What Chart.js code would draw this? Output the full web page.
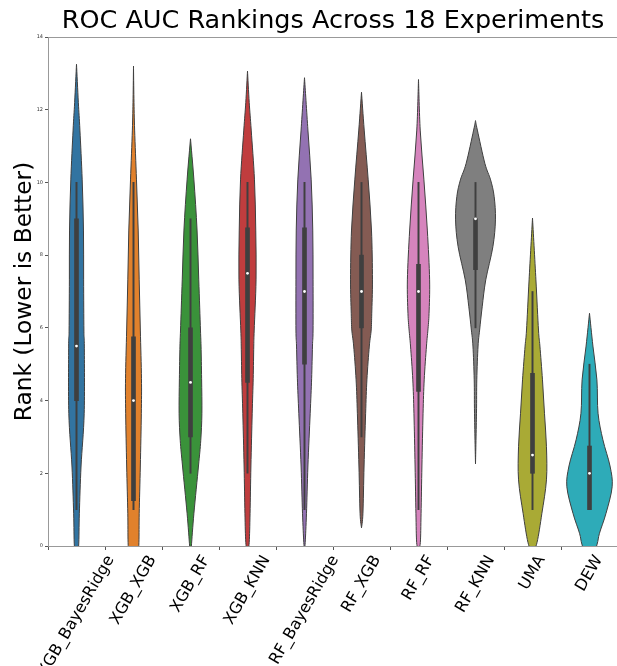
<!DOCTYPE html>
<html>
<head>
<meta charset="utf-8">
<script src="https://cdn.jsdelivr.net/npm/chart.js@4.4.1/dist/chart.umd.min.js"></script>
<style>
  html, body { margin: 0; padding: 0; background: #fff; overflow: hidden; }
  #wrap { width: 618px; height: 666px; position: relative; }
</style>
</head>
<body>
<div id="wrap"><canvas id="chart"></canvas></div>
<script>
const models = ['XGB_BayesRidge', 'XGB_XGB', 'XGB_RF', 'XGB_KNN', 'RF_BayesRidge',
                'RF_XGB', 'RF_RF', 'RF_KNN', 'UMA', 'DEW'];

// inner box of each violin (rank values)
const whiskLo = [1, 1, 2, 2, 1, 3, 1, 6, 1, 1];
const q1      = [4, 1.25, 3, 4.5, 5, 6, 4.25, 7.6, 2, 1];
const medians = [5.5, 4, 4.5, 7.5, 7, 7, 7, 9, 2.5, 2];
const q3      = [9, 5.75, 6, 8.75, 8.75, 8, 7.75, 9, 4.75, 2.75];
const whiskHi = [10, 10, 9, 10, 10, 10, 10, 10, 7, 5];

// violin outlines: [rank, full width as a share of the category slot]
const shapeXGB_BayesRidge = [[-0.3, 0], [0, 0.075], [0.9, 0.10], [2.2, 0.16], [3.65, 0.27], [5.5, 0.275],
  [5.94, 0.26], [7.32, 0.25], [8.69, 0.245], [10.07, 0.20], [11.44, 0.12], [12.2, 0.065], [13.25, 0]];
const shapeXGB_XGB = [[-0.5, 0.15], [0.1, 0.19], [0.9, 0.2], [2.2, 0.24], [3.65, 0.275], [4.6, 0.28],
  [5.94, 0.24], [7.32, 0.2], [8.69, 0.165], [10.07, 0.105], [11.44, 0.04], [12.3, 0.015], [13.2, 0]];
const shapeXGB_RF = [[-0.2, 0], [0, 0.03], [0.9, 0.12], [2.2, 0.28], [2.9, 0.36], [3.65, 0.40], [4.6, 0.39],
  [5.5, 0.37], [5.94, 0.35], [7.32, 0.29], [8.69, 0.23], [10.07, 0.12], [11.2, 0]];
const shapeXGB_KNN = [[-0.2, 0], [0.1, 0.06], [0.9, 0.09], [2.2, 0.12], [3.65, 0.165], [4.6, 0.2], [5.5, 0.22],
  [5.94, 0.235], [7.32, 0.3], [8.69, 0.29], [10.07, 0.245], [11.44, 0.13], [12.2, 0.06], [13.06, 0]];
const shapeRF_BayesRidge = [[-0.1, 0], [0.1, 0.025], [0.9, 0.07], [2.2, 0.12], [3.65, 0.2], [4.6, 0.25],
  [5.5, 0.28], [5.94, 0.3], [7.32, 0.3], [8.69, 0.29], [10.07, 0.235], [11.44, 0.12], [12.88, 0]];
const shapeRF_XGB = [[0.5, 0], [0.9, 0.05], [2.2, 0.09], [3.65, 0.145], [4.57, 0.19], [5.5, 0.275], [5.94, 0.34],
  [6.4, 0.36], [7.32, 0.385], [8.69, 0.35], [10.07, 0.235], [11.44, 0.095], [12.48, 0]];
const shapeRF_RF = [[-0.1, 0], [0.1, 0.065], [0.9, 0.09], [2.2, 0.12], [3.65, 0.16], [4.57, 0.2], [5.5, 0.28],
  [5.94, 0.33], [6.4, 0.37], [7.32, 0.39], [8.69, 0.31], [10.07, 0.19], [11.44, 0.06], [12.83, 0]];
const shapeRF_KNN = [[2.26, 0], [3.65, 0.035], [4.57, 0.045], [5.5, 0.09], [5.94, 0.145], [6.58, 0.235],
  [7.32, 0.36], [8.23, 0.61], [8.97, 0.70], [9.61, 0.655], [10.07, 0.53], [10.52, 0.33], [11.44, 0.065], [11.7, 0]];
const shapeUMA = [[-0.2, 0], [0.1, 0.16], [0.9, 0.33], [1.82, 0.49], [2.73, 0.49], [3.65, 0.42], [4.57, 0.35],
  [5.5, 0.26], [5.94, 0.21], [7.32, 0.12], [9.02, 0]];
const shapeDEW = [[-0.6, 0], [0.03, 0.26], [0.35, 0.35], [0.9, 0.58], [1.63, 0.795], [2.2, 0.72], [2.92, 0.47],
  [3.65, 0.30], [4.57, 0.26], [5.5, 0.12], [6.4, 0]];

const violinShapes = [shapeXGB_BayesRidge, shapeXGB_XGB, shapeXGB_RF, shapeXGB_KNN, shapeRF_BayesRidge,
                      shapeRF_XGB, shapeRF_RF, shapeRF_KNN, shapeUMA, shapeDEW];

const palette = ['#3274a1', '#e1812c', '#3a923a', '#c03d3e', '#9372b2',
                 '#845b53', '#d684bd', '#7f7f7f', '#a9aa35', '#2eabb8'];
const FONT = "'DejaVu Sans', sans-serif";

// catmull-rom through the outline points
function smoothPath(ctx, pts, move) {
  if (move) ctx.moveTo(pts[0][0], pts[0][1]);
  else ctx.lineTo(pts[0][0], pts[0][1]);
  for (let k = 0; k < pts.length - 1; k++) {
    const p0 = pts[Math.max(k - 1, 0)], p1 = pts[k], p2 = pts[k + 1], p3 = pts[Math.min(k + 2, pts.length - 1)];
    ctx.bezierCurveTo(
      p1[0] + (p2[0] - p0[0]) / 6, p1[1] + (p2[1] - p0[1]) / 6,
      p2[0] - (p3[0] - p1[0]) / 6, p2[1] - (p3[1] - p1[1]) / 6,
      p2[0], p2[1]);
  }
}

const violinPlugin = {
  id: 'violins',
  beforeDatasetsDraw(chart) {
    const { ctx, chartArea: a, scales: { x, y } } = chart;
    const slot = (a.right - a.left) / models.length;
    ctx.save();
    ctx.beginPath();
    ctx.rect(a.left, a.top, a.right - a.left, a.bottom - a.top);
    ctx.clip();
    violinShapes.forEach((shape, i) => {
      const cx = x.getPixelForValue(i);
      const right = shape.map(([r, w]) => [cx + w * slot / 2, y.getPixelForValue(r)]);
      const left = shape.map(([r, w]) => [cx - w * slot / 2, y.getPixelForValue(r)]).reverse();
      ctx.beginPath();
      smoothPath(ctx, right, true);
      smoothPath(ctx, left, false);
      ctx.closePath();
      ctx.fillStyle = palette[i];
      ctx.fill();
      ctx.lineWidth = 1;
      ctx.strokeStyle = '#3f3f3f';
      ctx.stroke();
    });
    ctx.restore();
  },
  afterDraw(chart) {
    const { ctx, chartArea: a, scales: { x } } = chart;
    ctx.save();
    // top spine
    ctx.strokeStyle = '#999';
    ctx.lineWidth = 1;
    ctx.beginPath();
    ctx.moveTo(a.left, a.top + 0.5);
    ctx.lineTo(a.right, a.top + 0.5);
    ctx.stroke();
    // rotated category labels, centred on their tick like matplotlib
    ctx.font = '16px ' + FONT;
    ctx.fillStyle = '#000';
    ctx.textAlign = 'center';
    ctx.textBaseline = 'middle';
    const ang = Math.PI / 3;
    models.forEach((m, i) => {
      const w = ctx.measureText(m).width, h = 16;
      const cx = x.getPixelForValue(i);
      const cy = a.bottom + 7 + (w * Math.sin(ang) + h * Math.cos(ang)) / 2;
      ctx.save();
      ctx.translate(cx, cy);
      ctx.rotate(-ang);
      ctx.fillText(m, 0, 0);
      ctx.restore();
    });
    ctx.restore();
  }
};

new Chart(document.getElementById('chart'), {
  data: {
    labels: models,
    datasets: [
      {
        type: 'line',
        data: medians,
        showLine: false,
        pointRadius: 1.4,
        pointBackgroundColor: '#fff',
        pointBorderWidth: 0,
        order: 1
      },
      {
        type: 'bar',
        data: models.map((_, i) => [q1[i], q3[i]]),
        backgroundColor: '#3f3f3f',
        barThickness: 4,
        grouped: false,
        order: 2
      },
      {
        type: 'bar',
        data: models.map((_, i) => [whiskLo[i], whiskHi[i]]),
        backgroundColor: '#3f3f3f',
        barThickness: 1.3,
        grouped: false,
        order: 3
      }
    ]
  },
  options: {
    responsive: true,
    maintainAspectRatio: false,
    animation: false,
    layout: { padding: 0, autoPadding: false },
    plugins: {
      legend: { display: false },
      tooltip: { enabled: false },
      title: {
        display: true,
        text: 'ROC AUC Rankings Across 18 Experiments',
        fullSize: false,
        color: '#000',
        font: { family: FONT, size: 25.5, weight: 'normal', lineHeight: 1.2 },
        padding: { top: 6.4, bottom: 0 }
      }
    },
    scales: {
      x: {
        type: 'category',
        offset: true,
        ticks: { display: false, autoSkip: false },
        grid: { drawOnChartArea: false, drawTicks: true, tickLength: 4, color: '#555' },
        border: { display: true, color: '#999', width: 1 },
        afterFit(scale) { scale.height = 120; }
      },
      y: {
        min: 0,
        max: 14,
        ticks: { stepSize: 2, color: '#333', padding: 2, font: { family: FONT, size: 5 } },
        grid: { drawOnChartArea: false, drawTicks: true, tickLength: 3, color: '#555' },
        border: { display: true, color: '#999', width: 1 },
        title: {
          display: true,
          text: 'Rank (Lower is Better)',
          color: '#000',
          font: { family: FONT, size: 23.3, weight: 'normal', lineHeight: 1.2 },
          padding: { top: 10.5, bottom: 0 }
        },
        afterFit(scale) { scale.width = 48; }
      }
    }
  },
  plugins: [violinPlugin]
});
</script>
</body>
</html>
